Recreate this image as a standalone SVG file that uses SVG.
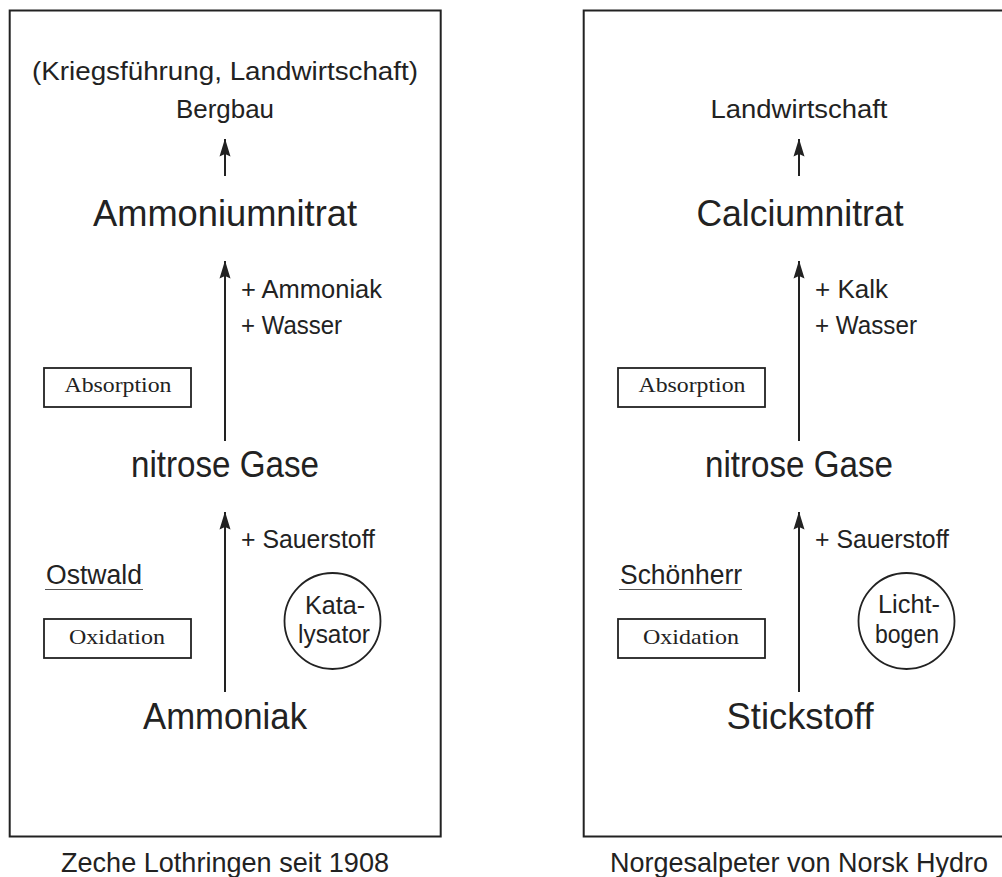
<svg xmlns="http://www.w3.org/2000/svg" width="1002" height="877" viewBox="0 0 1002 877">
  <style>
    .frame { fill: none; stroke: #222; stroke-width: 2; }
    .box { fill: none; stroke: #222; stroke-width: 1.8; }
    .ring { fill: none; stroke: #222; stroke-width: 1.8; }
    .flow { stroke: #222; stroke-width: 2; fill: none; marker-end: url(#tip); }
    .uline { stroke: #555; stroke-width: 1.2; }
    text { fill: #222; font-family: "Liberation Sans", Arial, sans-serif; }
    .big { font-size: 37px; text-anchor: middle; }
    .mid { font-size: 26px; text-anchor: middle; }
    .add { font-size: 26px; }
    .cap { font-size: 28px; text-anchor: middle; }
    .step { font-family: "Liberation Serif", "Times New Roman", serif; font-size: 21px; text-anchor: middle; }
    .ctr { font-size: 25px; text-anchor: middle; }
    .lead { font-size: 27px; }
  </style>
  <defs>
    <marker id="tip" viewBox="0 0 18 12" refX="17.5" refY="6" markerWidth="18" markerHeight="12" markerUnits="userSpaceOnUse" orient="auto">
      <path d="M0,0.5 L18,6 L0,11.5 L2.5,6 Z" fill="#222"/>
    </marker>
  </defs>

  <!-- left panel: Ostwald process -->
  <g id="panel-ostwald">
    <rect class="frame" x="9.7" y="10.5" width="431" height="826"/>
    <text class="cap" x="225" y="872" textLength="328" lengthAdjust="spacingAndGlyphs">Zeche Lothringen seit 1908</text>
  </g>
  <g id="use-ostwald">
    <text class="mid" x="225" y="80" textLength="386" lengthAdjust="spacingAndGlyphs">(Kriegsführung, Landwirtschaft)</text>
    <text class="mid" x="225" y="118" textLength="98" lengthAdjust="spacingAndGlyphs">Bergbau</text>
  </g>
  <g id="ammoniumnitrat">
    <text class="big" x="225" y="226" textLength="264" lengthAdjust="spacingAndGlyphs">Ammoniumnitrat</text>
  </g>
  <g id="nitrose-left">
    <text class="big" x="225" y="477" textLength="188" lengthAdjust="spacingAndGlyphs">nitrose Gase</text>
  </g>
  <g id="ammoniak">
    <text class="big" x="225" y="729" textLength="164" lengthAdjust="spacingAndGlyphs">Ammoniak</text>
  </g>
  <g id="inputs-left">
    <text class="add" x="241" y="298" textLength="141" lengthAdjust="spacingAndGlyphs">+ Ammoniak</text>
    <text class="add" x="241" y="334" textLength="101" lengthAdjust="spacingAndGlyphs">+ Wasser</text>
    <text class="add" x="241" y="548" textLength="134" lengthAdjust="spacingAndGlyphs">+ Sauerstoff</text>
  </g>
  <g id="absorption-left">
    <rect class="box" x="44" y="368" width="147" height="39"/>
    <text class="step" x="118" y="392" textLength="107" lengthAdjust="spacingAndGlyphs">Absorption</text>
  </g>
  <g id="ostwald">
    <text class="lead" x="46" y="584" textLength="96" lengthAdjust="spacingAndGlyphs">Ostwald</text>
    <line class="uline" x1="45" y1="589.5" x2="143" y2="589.5"/>
  </g>
  <g id="oxidation-left">
    <rect class="box" x="44" y="619" width="147" height="39"/>
    <text class="step" x="117" y="644" textLength="96" lengthAdjust="spacingAndGlyphs">Oxidation</text>
  </g>
  <g id="katalysator">
    <circle class="ring" cx="332.5" cy="621" r="48"/>
    <text class="ctr" x="335" y="614" textLength="60" lengthAdjust="spacingAndGlyphs">Kata-</text>
    <text class="ctr" x="334" y="643" textLength="72" lengthAdjust="spacingAndGlyphs">lysator</text>
  </g>

  <!-- right panel: Schönherr arc process -->
  <g id="panel-hydro">
    <rect class="frame" x="583.7" y="10.5" width="431" height="826"/>
    <text class="cap" x="799" y="872" textLength="378" lengthAdjust="spacingAndGlyphs">Norgesalpeter von Norsk Hydro</text>
  </g>
  <g id="use-hydro">
    <text class="mid" x="799" y="118" textLength="177" lengthAdjust="spacingAndGlyphs">Landwirtschaft</text>
  </g>
  <g id="calciumnitrat">
    <text class="big" x="800" y="226" textLength="207" lengthAdjust="spacingAndGlyphs">Calciumnitrat</text>
  </g>
  <g id="nitrose-right">
    <text class="big" x="799" y="477" textLength="188" lengthAdjust="spacingAndGlyphs">nitrose Gase</text>
  </g>
  <g id="stickstoff">
    <text class="big" x="800" y="729" textLength="147" lengthAdjust="spacingAndGlyphs">Stickstoff</text>
  </g>
  <g id="inputs-right">
    <text class="add" x="815" y="298" textLength="73" lengthAdjust="spacingAndGlyphs">+ Kalk</text>
    <text class="add" x="815" y="334" textLength="102" lengthAdjust="spacingAndGlyphs">+ Wasser</text>
    <text class="add" x="815" y="548" textLength="134" lengthAdjust="spacingAndGlyphs">+ Sauerstoff</text>
  </g>
  <g id="absorption-right">
    <rect class="box" x="618" y="368" width="147" height="39"/>
    <text class="step" x="692" y="392" textLength="107" lengthAdjust="spacingAndGlyphs">Absorption</text>
  </g>
  <g id="schoenherr">
    <text class="lead" x="620" y="584" textLength="122" lengthAdjust="spacingAndGlyphs">Schönherr</text>
    <line class="uline" x1="619" y1="589.5" x2="742" y2="589.5"/>
  </g>
  <g id="oxidation-right">
    <rect class="box" x="618" y="619" width="147" height="39"/>
    <text class="step" x="691" y="644" textLength="96" lengthAdjust="spacingAndGlyphs">Oxidation</text>
  </g>
  <g id="lichtbogen">
    <circle class="ring" cx="906.5" cy="621" r="48"/>
    <text class="ctr" x="909" y="613" textLength="62" lengthAdjust="spacingAndGlyphs">Licht-</text>
    <text class="ctr" x="907" y="643" textLength="64" lengthAdjust="spacingAndGlyphs">bogen</text>
  </g>

  <!-- reaction arrows -->
  <g id="connectors">
    <line class="flow" x1="225" y1="176" x2="225" y2="139"/>
    <line class="flow" x1="225" y1="441" x2="225" y2="261"/>
    <line class="flow" x1="225" y1="692" x2="225" y2="512"/>
    <line class="flow" x1="799" y1="176" x2="799" y2="139"/>
    <line class="flow" x1="799" y1="441" x2="799" y2="261"/>
    <line class="flow" x1="799" y1="692" x2="799" y2="512"/>
  </g>
</svg>
